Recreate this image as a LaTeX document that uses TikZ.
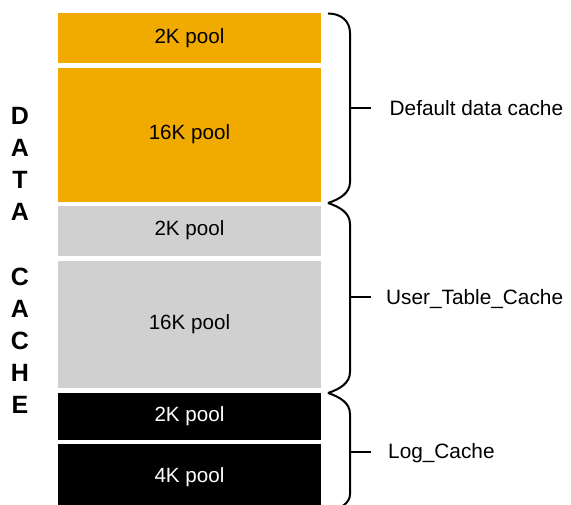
\documentclass[tikz,border=0pt]{standalone}
\usepackage{fontspec}
\setmainfont{Liberation Sans}
\usepackage{tikz}
\usetikzlibrary{positioning}
\definecolor{cacheorange}{RGB}{240,170,0}
\definecolor{cachegray}{RGB}{208,208,208}
\tikzstyle{pool} = [inner sep=0pt, minimum width=263.5pt, anchor=north west, font=\fontsize{20.6}{24}\selectfont, text height=1.06em, text depth=0.1em]
\tikzstyle{cachelabel} = [inner sep=0pt, anchor=base west, font=\fontsize{20.8}{24}\selectfont]
\tikzstyle{letter} = [inner sep=0pt, font=\fontsize{25}{30}\selectfont\bfseries]
\tikzstyle{bracket} = [draw, line width=2pt]

\begin{document}
\begin{tikzpicture}[x=1pt, y=-1pt]
			\useasboundingbox (0,0) rectangle (571,505);
			\clip (0,0) rectangle (571,505);

			% pools
			\node [pool, fill=cacheorange, minimum height=50pt] (dflt2k) at (57.5,13.3) {2K pool};
			\node [pool, fill=cacheorange, minimum height=134.6pt] (dflt16k) at (57.5,67.7) {16K pool};
			\node [pool, fill=cachegray, minimum height=50pt] (user2k) at (57.5,206) {2K pool};
			\node [pool, fill=cachegray, minimum height=127.2pt] (user16k) at (57.5,260.5) {16K pool};
			\node [pool, fill=black, text=white, minimum height=47pt] (log2k) at (57.5,393) {2K pool};
			\node [pool, fill=black, text=white, minimum height=66pt] (log4k) at (57.5,444) {4K pool};

			% vertical title
			\foreach \i/\ch in {1/D,2/A,3/T,4/A,6/C,7/A,8/C,9/H,10/E}
				\node [letter] (letter\i) at (20, 116+32.1*\i-32.1) {\ch};

			% brackets
			\path [bracket] (328,13.5) .. controls (341,13.5) and (350,21) .. (350,33)
				-- (350,182) .. controls (350,193) and (340,199) .. (328,203);
			\path [bracket] (328,203) .. controls (340,207) and (350,213) .. (350,224)
				-- (350,372) .. controls (350,383) and (340,389) .. (328,393);
			\path [bracket] (328,393) .. controls (340,397) and (350,403) .. (350,414)
				-- (350,494) .. controls (350,503) and (341,509) .. (328,511);

			\coordinate (tick1) at (371,108);
			\coordinate (tick2) at (371,297.5);
			\coordinate (tick3) at (371,451.5);
			\path [bracket] (350,108) -- (tick1);
			\path [bracket] (350,297.5) -- (tick2);
			\path [bracket] (350,451.5) -- (tick3);

			% labels
			\node [cachelabel] (dfltlabel) at (389.5,115.4) {Default data cache};
			\node [cachelabel] (userlabel) at (386,304.9) {User\_Table\_Cache};
			\node [cachelabel] (loglabel) at (388,458.9) {Log\_Cache};
\end{tikzpicture}
\end{document}
